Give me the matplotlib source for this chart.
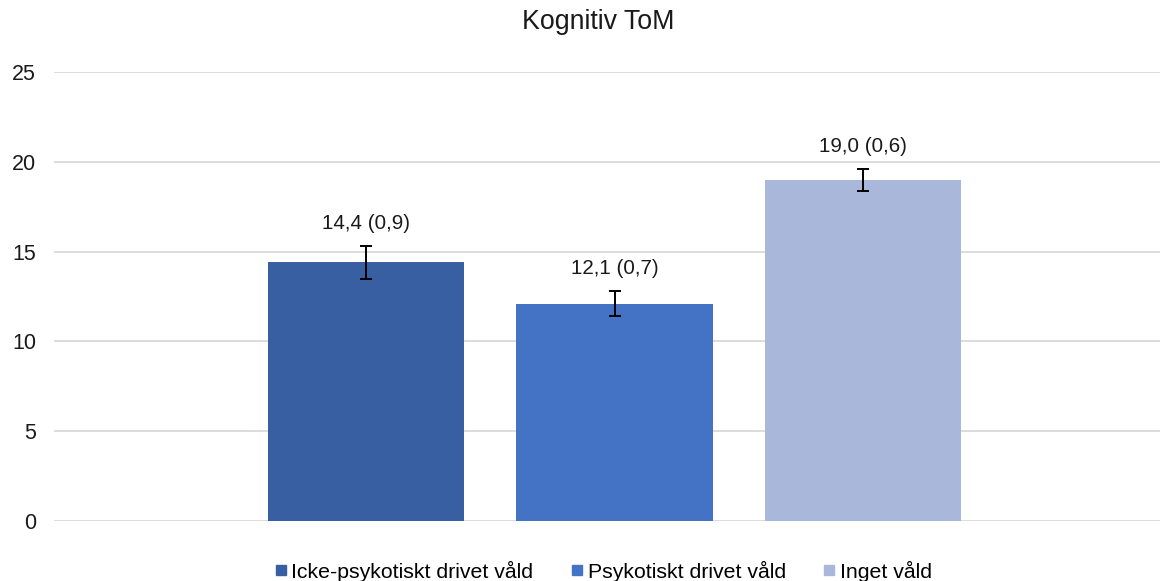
import matplotlib
matplotlib.use("Agg")
import matplotlib.pyplot as plt
from matplotlib.lines import Line2D

plt.rcParams['font.family'] = ['Liberation Sans', 'DejaVu Sans']

categories = ["Icke-psykotiskt drivet våld", "Psykotiskt drivet våld", "Inget våld"]
values = [14.4, 12.1, 19.0]
errors = [0.9, 0.7, 0.6]
labels = ["14,4 (0,9)", "12,1 (0,7)", "19,0 (0,6)"]
colors = ["#375FA2", "#4472C4", "#A9B7DB"]
yticks = [0, 5, 10, 15, 20, 25]

W, H = 1163, 581
fig = plt.figure(figsize=(W / 100, H / 100), dpi=100)
ax = fig.add_axes([54 / W, 1 - 521 / H, (1160 - 54) / W, (521 - 72) / H])

x = list(range(len(values)))
ax.bar(x, values, width=0.789, color=colors, zorder=3)
ax.errorbar(x, values, yerr=errors, fmt='none', ecolor='black', elinewidth=1.4,
            capsize=4.3, capthick=1.4, zorder=4)
for xi, v, e, lab in zip(x, values, errors, labels):
    ax.annotate(lab, (xi, v + e), xytext=(0, 16.5), textcoords='offset points',
                ha='center', va='center', fontsize=14.8, color='#1a1a1a')

ax.set_xlim(-1.2555, 3.195)
ax.set_ylim(0, 25)
ax.set_yticks(yticks)
ax.set_yticklabels([str(t) for t in yticks], fontsize=15.5, color='#1a1a1a')
ax.set_xticks([])
ax.tick_params(axis='y', length=0, pad=13)
ax.grid(axis='y', color='#D9D9D9', linewidth=1.3, zorder=0)
for s in ax.spines.values():
    s.set_visible(False)

fig.text(598 / W, 1 - 22 / H, "Kognitiv ToM", ha='center', va='center',
         fontsize=19.3, color='#1a1a1a')

handles = [Line2D([], [], marker='s', linestyle='none', markersize=7.5,
                  markerfacecolor=c, markeredgecolor=c) for c in colors]
fig.legend(handles, categories, loc='center', bbox_to_anchor=(602 / W, 1 - 571 / H),
           ncol=3, frameon=False, fontsize=15.3, handletextpad=0.1,
           columnspacing=1.65, handlelength=0.8, borderpad=0, borderaxespad=0)

fig.savefig("out.png", dpi=100)
